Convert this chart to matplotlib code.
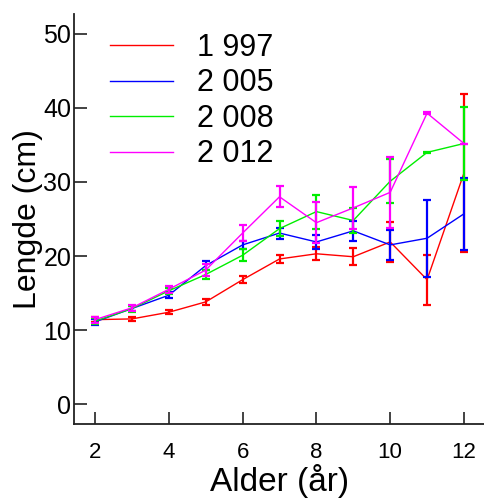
import matplotlib
matplotlib.use("Agg")
import matplotlib.pyplot as plt

plt.rcParams['font.family'] = ['Liberation Sans', 'DejaVu Sans']

ages = [2, 3, 4, 5, 6, 7, 8, 9, 10, 11, 12]
years = ["1 997", "2 005", "2 008", "2 012"]
colors = ["#ff0000", "#0000ff", "#00ee00", "#ff00ff"]

len_1997 = [11.4, 11.5, 12.4, 13.8, 16.8, 19.6, 20.3, 19.9, 21.9, 16.8, 31.2]
err_1997 = [0.3, 0.3, 0.3, 0.4, 0.5, 0.6, 0.9, 1.15, 2.65, 3.4, 10.7]
len_2005 = [11.1, 12.9, 14.7, 18.7, 21.5, 23.1, 21.9, 23.4, 21.5, 22.4, 25.7]
err_2005 = [0.4, 0.3, 0.4, 0.6, 0.5, 0.75, 0.95, 1.35, 2.0, 5.2, 4.9]
len_2008 = [11.2, 12.9, 15.3, 17.5, 20.1, 23.7, 26.0, 24.8, 30.1, 34.0, 35.2]
err_2008 = [0.4, 0.4, 0.4, 0.6, 0.8, 1.0, 2.3, 1.7, 3.0, 0.1, 4.9]
len_2012 = [11.4, 13.0, 15.5, 18.1, 23.1, 28.0, 24.5, 26.5, 28.6, 39.3, 35.2]
err_2012 = [0.4, 0.4, 0.5, 0.85, 1.1, 1.4, 2.8, 2.8, 4.75, 0.1, 0.0]

series = [len_1997, len_2005, len_2008, len_2012]
errors = [err_1997, err_2005, err_2008, err_2012]

fig = plt.figure(figsize=(4.85, 4.99), dpi=100)
ax = fig.add_axes([74/485, 1-424/499, 1-74/485, (424-14)/499])

handles = []
for vals, errs, c, lab in zip(series, errors, colors, years):
    ax.errorbar(ages, vals, yerr=errs, fmt='none', ecolor=c, elinewidth=1.6,
                capsize=3, capthick=1.6)
    h, = ax.plot(ages, vals, color=c, lw=1.0, label=lab)
    handles.append(h)

ax.set_xlim(1.43, 12.57)
ax.set_ylim(-2.7, 52.7)
ax.set_xticks([2, 4, 6, 8, 10, 12])
ax.set_yticks([0, 10, 20, 30, 40, 50])
ax.spines['top'].set_visible(False)
ax.spines['right'].set_visible(False)
for s in ['left', 'bottom']:
    ax.spines[s].set_linewidth(1.3)
    ax.spines[s].set_color('#222222')
ax.tick_params(axis='x', direction='in', length=9, width=1.2, labelsize=16, pad=13, color='#222222')
ax.tick_params(axis='y', direction='in', length=9.5, width=1.2, labelsize=18, pad=2, color='#222222')

ax.set_xlabel("Alder (år)", fontsize=24, labelpad=1)
ax.set_ylabel("Lengde (cm)", fontsize=23, labelpad=0)

leg = ax.legend(handles=handles, loc='upper left', bbox_to_anchor=(0.036, 1.006),
                frameon=False, fontsize=22, handlelength=2.05, handletextpad=0.8,
                labelspacing=0.18, borderaxespad=0.3)

fig.savefig("out.png", dpi=100)
